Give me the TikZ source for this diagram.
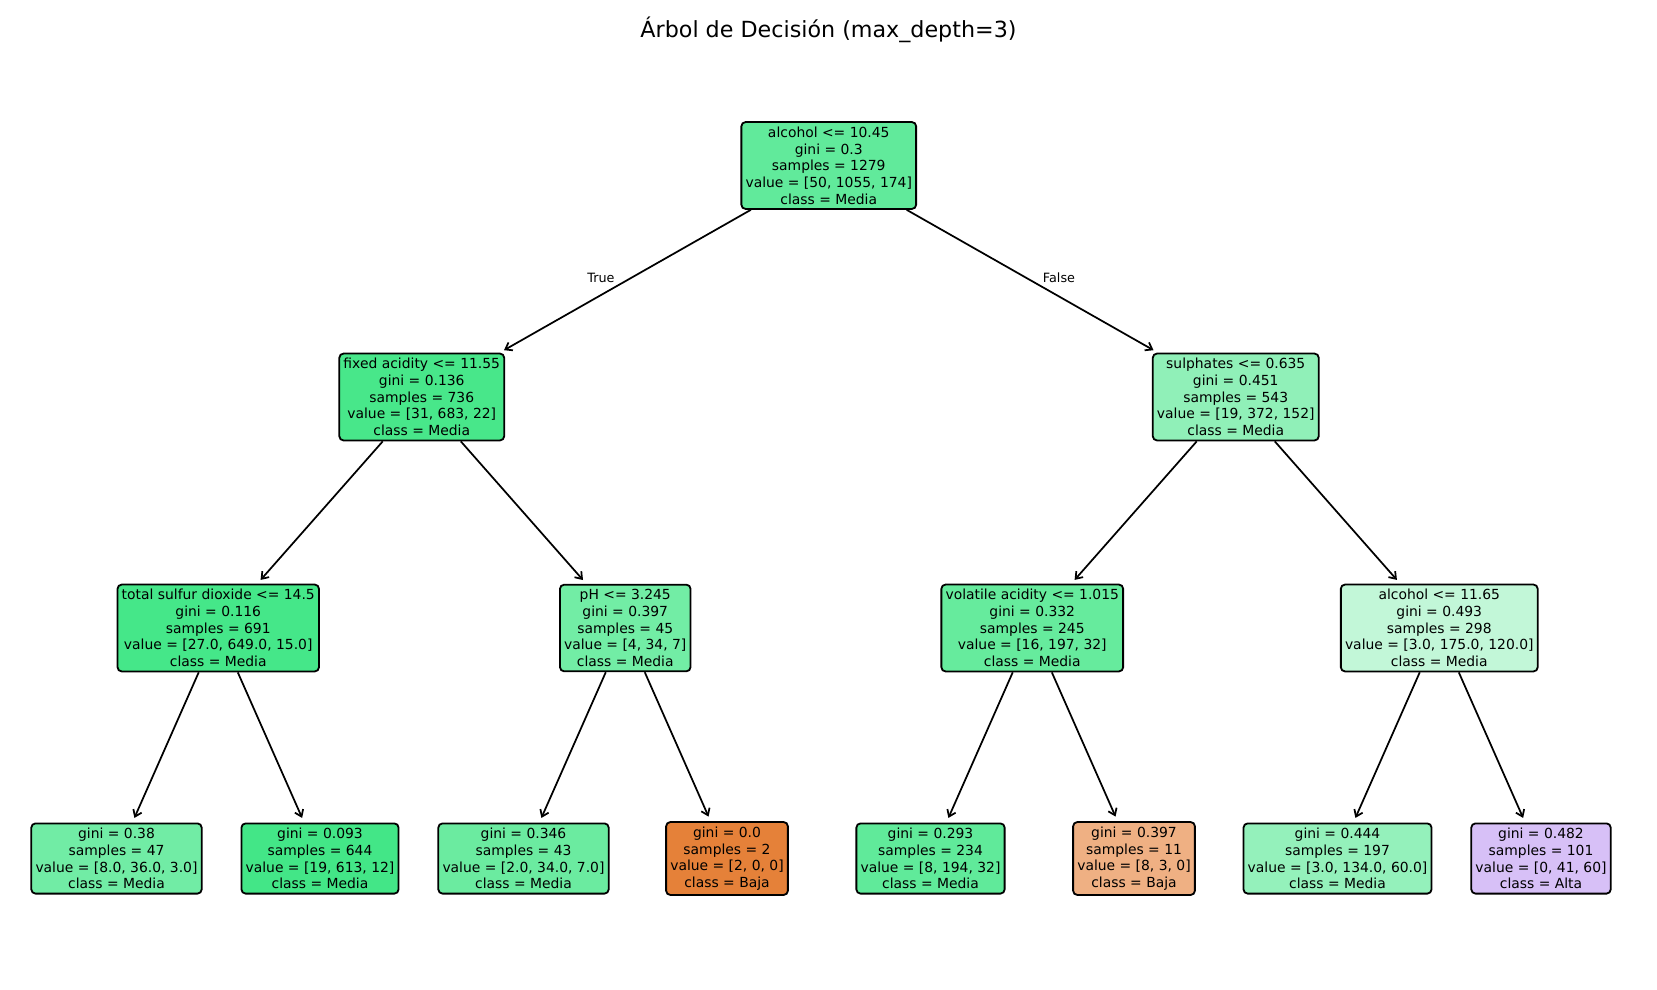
\documentclass[tikz,border=0pt]{standalone}
\usepackage{fontspec}
\setmainfont{DejaVu Sans}
\usetikzlibrary{arrows.meta}
\definecolor{cg}{RGB}{57,229,129}
\definecolor{co}{RGB}{229,129,57}
\definecolor{cp}{RGB}{129,57,229}
\begin{document}
\begin{tikzpicture}[x=0.72pt,y=-0.72pt,
  tn/.style={draw=black, line width=1.3pt, rounded corners=3pt, align=center,
    font=\fontsize{10}{12}\selectfont, inner xsep=3pt, inner ysep=3.4pt},
  edge/.style={line width=1.25pt, -{Straight Barb[length=4.5pt,width=6.5pt]}, shorten >=3.6pt},
  lbl/.style={font=\fontsize{9.2}{11}\selectfont, anchor=base, inner sep=0pt}]
\useasboundingbox (0,0) rectangle (1657,989);

\node[font=\fontsize{16}{19}\selectfont, anchor=base, inner sep=0pt] (title) at (828.5,38) {Árbol de Decisión (max\_depth=3)};

\node[tn, fill=cg!79.7!white] (root) at (828.75,165.5) {alcohol <= 10.45\\gini = 0.3\\samples = 1279\\value = [50, 1055, 174]\\class = Media};

\node[tn, fill=cg!92.5!white] (n1) at (421.75,397) {fixed acidity <= 11.55\\gini = 0.136\\samples = 736\\value = [31, 683, 22]\\class = Media};
\node[tn, fill=cg!56.25!white] (n2) at (1235.75,397) {sulphates <= 0.635\\gini = 0.451\\samples = 543\\value = [19, 372, 152]\\class = Media};

\node[tn, fill=cg!93.7!white] (n3) at (218.25,628) {total sulfur dioxide <= 14.5\\gini = 0.116\\samples = 691\\value = [27.0, 649.0, 15.0]\\class = Media};
\node[tn, fill=cg!71.1!white] (n4) at (625.25,628) {pH <= 3.245\\gini = 0.397\\samples = 45\\value = [4, 34, 7]\\class = Media};
\node[tn, fill=cg!77.5!white] (n5) at (1032.25,628) {volatile acidity <= 1.015\\gini = 0.332\\samples = 245\\value = [16, 197, 32]\\class = Media};
\node[tn, fill=cg!30.9!white] (n6) at (1439.25,628) {alcohol <= 11.65\\gini = 0.493\\samples = 298\\value = [3.0, 175.0, 120.0]\\class = Media};

\node[tn, fill=cg!71.8!white] (n7) at (116.5,858.5) {gini = 0.38\\samples = 47\\value = [8.0, 36.0, 3.0]\\class = Media};
\node[tn, fill=cg!95!white] (n8) at (320,858.5) {gini = 0.093\\samples = 644\\value = [19, 613, 12]\\class = Media};
\node[tn, fill=cg!75!white] (n9) at (523.5,858.5) {gini = 0.346\\samples = 43\\value = [2.0, 34.0, 7.0]\\class = Media};
\node[tn, fill=co] (n10) at (727,858.5) {gini = 0.0\\samples = 2\\value = [2, 0, 0]\\class = Baja};
\node[tn, fill=cg!80.2!white] (n11) at (930.5,858.5) {gini = 0.293\\samples = 234\\value = [8, 194, 32]\\class = Media};
\node[tn, fill=co!62.5!white] (n12) at (1134,858.5) {gini = 0.397\\samples = 11\\value = [8, 3, 0]\\class = Baja};
\node[tn, fill=cg!54.1!white] (n13) at (1337.5,858.5) {gini = 0.444\\samples = 197\\value = [3.0, 134.0, 60.0]\\class = Media};
\node[tn, fill=cp!31.7!white] (n14) at (1541,858.5) {gini = 0.482\\samples = 101\\value = [0, 41, 60]\\class = Alta};

\draw[edge] (root) -- (n1);
\draw[edge] (root) -- (n2);
\draw[edge] (n1) -- (n3);
\draw[edge] (n1) -- (n4);
\draw[edge] (n2) -- (n5);
\draw[edge] (n2) -- (n6);
\draw[edge] (n3) -- (n7);
\draw[edge] (n3) -- (n8);
\draw[edge] (n4) -- (n9);
\draw[edge] (n4) -- (n10);
\draw[edge] (n5) -- (n11);
\draw[edge] (n5) -- (n12);
\draw[edge] (n6) -- (n13);
\draw[edge] (n6) -- (n14);

\node[lbl] (ltrue) at (601,282) {True};
\node[lbl] (lfalse) at (1059,282) {False};
\end{tikzpicture}
\end{document}
